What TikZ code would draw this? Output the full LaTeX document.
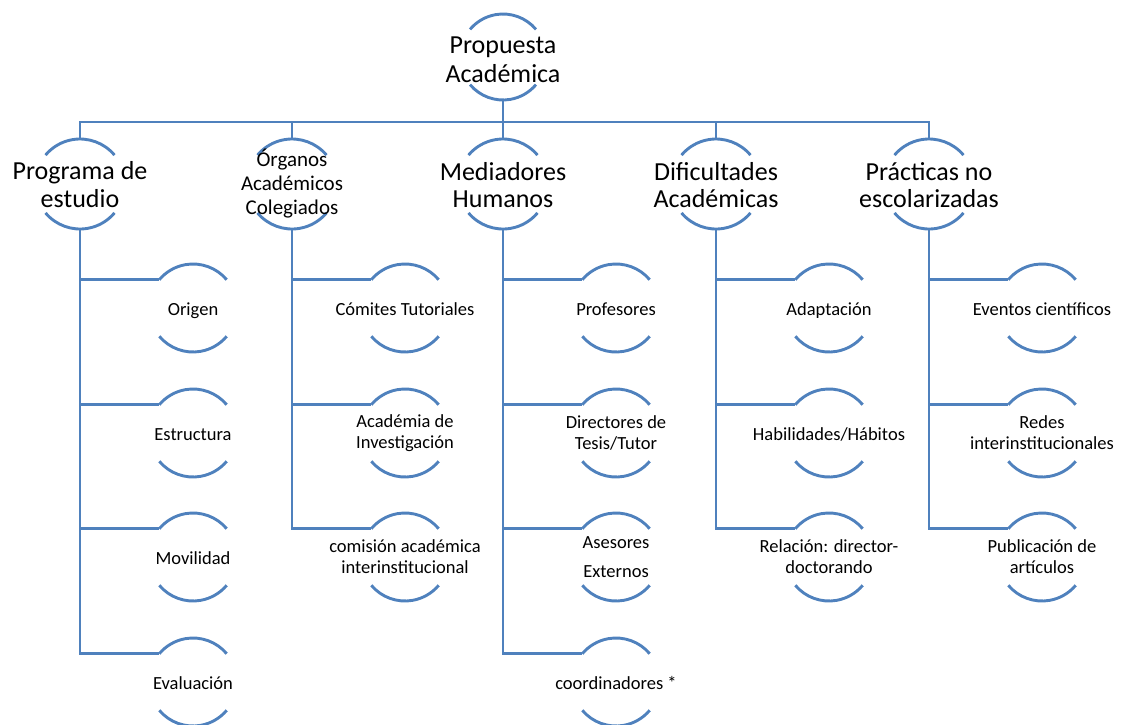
\documentclass[tikz,border=0pt]{standalone}
\usepackage{fontspec}
\setmainfont{Carlito}
\definecolor{sablue}{RGB}{79,129,189}
\tikzset{
  ring/.style={circle,minimum size=#1,inner sep=0pt,outer sep=0pt},
  arcline/.style={draw=sablue,line width=2.9pt},
  conn/.style={draw=sablue,line width=2.9pt},
  bigtext/.style={align=center,inner sep=0pt,font=\fontsize{26}{28}\selectfont},
  midtext/.style={align=center,inner sep=0pt,font=\fontsize{21}{24}\selectfont},
  smalltext/.style={align=center,inner sep=0pt,font=\fontsize{18.5}{21}\selectfont},
  oneline/.style={anchor=base,yshift=-7.5pt},
}
\newcommand\twoarcs[2]{%
  \draw[arcline] (#1.40) arc[start angle=40,end angle=140,radius=#2];
  \draw[arcline] (#1.220) arc[start angle=220,end angle=320,radius=#2];}
\begin{document}
\begin{tikzpicture}[x=1pt,y=1pt]
\useasboundingbox (0,0) rectangle (1125,-724);
% top
\node[ring=86pt] (top) at (503,-57) {};
\node[bigtext,font=\fontsize{26}{29}\selectfont] (topT) at (503,-60) {Propuesta\\Académica};
\twoarcs{top}{43pt}
% level 1
\foreach \n/\x in {prog/80,org/292,med/503,dif/716,pra/929}{
  \node[ring=90pt] (\n) at (\x,-184) {};
  \twoarcs{\n}{45pt}
}
\node[bigtext] (progT) at (80,-185) {Programa de\\estudio};
\node[midtext] (orgT) at (292,-184) {Órganos\\Académicos\\Colegiados};
\node[bigtext,font=\fontsize{26}{27}\selectfont] (medT) at (503,-185) {Mediadores\\Humanos};
\node[bigtext,font=\fontsize{26}{27}\selectfont] (difT) at (716,-185) {Dificultades\\Académicas};
\node[bigtext,font=\fontsize{26}{27}\selectfont] (praT) at (929,-185) {Prácticas no\\escolarizadas};
\foreach \n in {prog,org,med,dif,pra}{
  \draw[conn] (top.south) -- ++(0,-22) -| (\n.north);
}
% level 2
\foreach \p/\n/\x/\y in {prog/a1/193/308,prog/a2/193/433,prog/a3/193/557,prog/a4/193/682,
  org/b1/405/308,org/b2/405/433,org/b3/405/557,
  med/c1/616/308,med/c2/616/433,med/c3/616/557,med/c4/616/682,
  dif/d1/829/308,dif/d2/829/433,dif/d3/829/557,
  pra/e1/1042/308,pra/e2/1042/433,pra/e3/1042/557}{
  \node[ring=88pt] (\n) at (\x,-\y) {};
  \twoarcs{\n}{44pt}
  \draw[conn] (\p.south) |- (\n.140);
}
\node[smalltext,oneline] (a1T) at (a1) {Origen};
\node[smalltext,oneline] (a2T) at (a2) {Estructura};
\node[smalltext,oneline] (a3T) at (a3) {Movilidad};
\node[smalltext,oneline] (a4T) at (a4) {Evaluación};
\node[smalltext,oneline] (b1T) at (b1) {Cómites Tutoriales};
\node[smalltext] (b2T) at (b2) {Académia de\\Investigación};
\node[smalltext] (b3T) at (b3) {comisión académica\\interinstitucional};
\node[smalltext,oneline] (c1T) at (c1) {Profesores};
\node[smalltext] (c2T) at (c2) {Directores de\\Tesis/Tutor};
\node[smalltext,font=\fontsize{18.5}{29}\selectfont] (c3T) at (c3) {Asesores\\Externos};
\node[smalltext,oneline] (c4T) at (c4) {coordinadores *};
\node[smalltext,oneline] (d1T) at (d1) {Adaptación};
\node[smalltext,oneline] (d2T) at (d2) {Habilidades/Hábitos};
\node[smalltext] (d3T) at (d3) {Relación: director-\\doctorando};
\node[smalltext,oneline] (e1T) at (e1) {Eventos científicos};
\node[smalltext] (e2T) at (e2) {Redes\\interinstitucionales};
\node[smalltext] (e3T) at (e3) {Publicación de\\artículos};
\end{tikzpicture}
\end{document}
